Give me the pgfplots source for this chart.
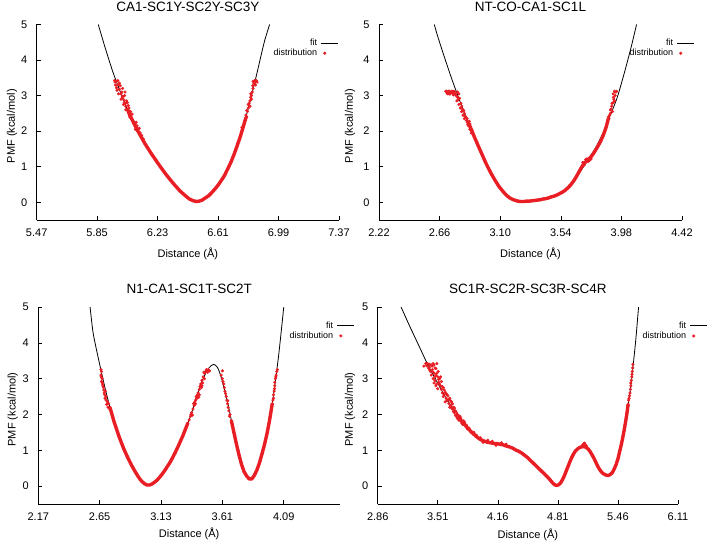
\documentclass[border=0pt]{standalone}
\usepackage{pgfplots}
\usepackage{pgfplotstable}
\pgfplotsset{compat=1.18}
\usepackage{fontspec}
\setmainfont{Liberation Sans}
\definecolor{distred}{RGB}{232,30,36}

% ---------- Panel A: CA1-SC1Y-SC2Y-SC3Y ----------
\pgfplotstableread[row sep=\\]{x y\\
5.857 5.0\\ 5.90 4.35\\ 5.95 3.65\\ 6.00 3.05\\ 6.05 2.50\\ 6.10 2.05\\ 6.15 1.65\\ 6.20 1.30\\ 6.25 0.98\\ 6.30 0.68\\ 6.35 0.42\\ 6.40 0.20\\ 6.45 0.05\\ 6.47 0.02\\ 6.50 0.04\\ 6.55 0.18\\ 6.60 0.42\\ 6.65 0.75\\ 6.70 1.22\\ 6.75 1.85\\ 6.80 2.65\\ 6.85 3.55\\ 6.90 4.50\\ 6.934 5.0\\
}\fitA
\pgfplotstableread[row sep=\\]{x y\\
6.04 2.62\\ 6.055 2.45\\ 6.07 2.32\\ 6.09 2.14\\ 6.11 1.97\\ 6.13 1.81\\ 6.15 1.65\\ 6.17 1.51\\ 6.19 1.37\\ 6.21 1.24\\ 6.23 1.11\\ 6.25 0.98\\ 6.27 0.86\\ 6.29 0.74\\ 6.31 0.63\\ 6.33 0.52\\ 6.35 0.42\\ 6.37 0.32\\ 6.39 0.24\\ 6.41 0.16\\ 6.43 0.09\\ 6.45 0.05\\ 6.47 0.02\\ 6.49 0.03\\ 6.51 0.06\\ 6.53 0.12\\ 6.55 0.18\\ 6.57 0.27\\ 6.59 0.37\\ 6.61 0.48\\ 6.63 0.61\\ 6.65 0.75\\ 6.67 0.93\\ 6.69 1.12\\ 6.71 1.34\\ 6.73 1.59\\ 6.75 1.85\\ 6.77 2.15\\ 6.785 2.38\\
}\coreA
\pgfplotstableread[row sep=\\]{x y\\
5.96 3.42\\ 5.97 3.40\\ 5.98 3.30\\ 5.975 3.15\\ 5.99 3.35\\ 6.00 3.05\\ 6.00 2.90\\ 6.01 3.20\\ 6.01 2.95\\ 6.02 2.80\\ 6.025 3.10\\ 6.03 2.70\\ 6.035 2.85\\ 6.04 2.60\\ 6.045 2.72\\ 6.05 2.50\\ 6.055 2.40\\ 6.06 2.55\\ 5.985 3.05\\ 5.965 3.30\\ 6.015 2.75\\ 6.03 2.60\\ 6.065 2.35\\ 6.08 2.25\\ 6.09 2.05\\ 6.10 2.15\\ 6.12 1.95\\
5.962 3.38\\ 5.972 3.22\\ 5.98 3.42\\ 5.99 3.18\\ 5.995 3.28\\ 6.005 3.10\\ 6.008 2.98\\ 6.018 2.88\\ 6.022 3.00\\ 6.028 2.78\\ 6.04 2.80\\ 6.05 2.65\\ 6.06 2.42\\ 6.07 2.48\\ 6.075 2.28\\ 6.085 2.18\\ 6.095 2.25\\ 6.105 2.00\\ 6.115 2.08\\ 6.13 1.88\\ 6.14 1.78\\
6.78 2.30\\ 6.785 2.45\\ 6.79 2.40\\ 6.795 2.55\\ 6.80 2.65\\ 6.80 2.75\\ 6.81 2.85\\ 6.81 2.70\\ 6.82 3.00\\ 6.82 2.90\\ 6.825 3.10\\ 6.83 3.20\\ 6.835 3.35\\ 6.84 3.42\\ 6.85 3.42\\ 6.845 3.30\\ 6.83 3.40\\ 6.815 3.05\\ 6.855 3.38\\
6.775 2.22\\ 6.79 2.58\\ 6.805 2.78\\ 6.815 2.95\\ 6.828 3.28\\ 6.84 3.36\\ 6.848 3.42\\ 6.76 2.10\\
}\scatA

% ---------- Panel B: NT-CO-CA1-SC1L ----------
\pgfplotstableread[row sep=\\]{x y\\
2.621 5.0\\ 2.65 4.62\\ 2.70 4.02\\ 2.75 3.45\\ 2.80 2.92\\ 2.85 2.42\\ 2.90 1.95\\ 2.95 1.50\\ 3.00 1.07\\ 3.05 0.70\\ 3.10 0.40\\ 3.15 0.18\\ 3.20 0.06\\ 3.25 0.02\\ 3.30 0.03\\ 3.35 0.05\\ 3.40 0.08\\ 3.45 0.12\\ 3.50 0.19\\ 3.55 0.29\\ 3.60 0.45\\ 3.65 0.68\\ 3.70 0.97\\ 3.75 1.27\\ 3.80 1.58\\ 3.85 1.98\\ 3.90 2.45\\ 3.95 2.95\\ 4.00 3.62\\ 4.05 4.35\\ 4.09 5.0\\
}\fitB
\pgfplotstableread[row sep=\\]{x y\\
2.87 2.22\\ 2.89 2.05\\ 2.91 1.86\\ 2.93 1.68\\ 2.95 1.50\\ 2.97 1.33\\ 2.99 1.15\\ 3.01 0.99\\ 3.03 0.84\\ 3.05 0.70\\ 3.07 0.57\\ 3.09 0.45\\ 3.11 0.35\\ 3.13 0.26\\ 3.15 0.18\\ 3.17 0.12\\ 3.19 0.08\\ 3.21 0.05\\ 3.23 0.03\\ 3.25 0.02\\ 3.27 0.02\\ 3.29 0.03\\ 3.31 0.03\\ 3.33 0.04\\ 3.35 0.05\\ 3.37 0.06\\ 3.39 0.07\\ 3.41 0.09\\ 3.43 0.10\\ 3.45 0.12\\ 3.47 0.15\\ 3.49 0.17\\ 3.51 0.20\\ 3.53 0.24\\ 3.55 0.28\\ 3.57 0.33\\ 3.59 0.40\\ 3.61 0.48\\ 3.63 0.58\\ 3.65 0.70\\ 3.67 0.84\\ 3.69 0.98\\ 3.71 1.10\\ 3.73 1.16\\ 3.75 1.24\\ 3.77 1.33\\ 3.79 1.45\\ 3.81 1.58\\ 3.83 1.72\\ 3.85 1.90\\ 3.87 2.12\\ 3.885 2.35\\
}\coreB
\pgfplotstableread[row sep=\\]{x y\\
2.71 3.12\\ 2.72 3.10\\ 2.73 3.12\\ 2.74 3.08\\ 2.75 3.12\\ 2.76 3.02\\ 2.77 3.10\\ 2.78 3.00\\ 2.79 2.95\\ 2.80 3.05\\ 2.785 2.85\\ 2.80 2.75\\ 2.81 2.65\\ 2.82 2.70\\ 2.82 2.55\\ 2.83 2.45\\ 2.84 2.50\\ 2.84 2.35\\ 2.85 2.40\\ 2.86 2.25\\ 2.86 2.35\\ 2.87 2.15\\ 2.88 2.20\\ 2.88 2.05\\ 2.89 1.95\\ 2.72 3.05\\ 2.76 3.12\\
2.705 3.12\\ 2.715 3.06\\ 2.725 3.12\\ 2.735 3.04\\ 2.745 3.12\\ 2.755 3.06\\ 2.765 3.12\\ 2.775 3.04\\ 2.79 3.10\\ 2.795 2.88\\ 2.805 2.92\\ 2.815 2.78\\ 2.825 2.62\\ 2.835 2.58\\ 2.845 2.42\\ 2.855 2.30\\ 2.865 2.18\\ 2.875 2.28\\ 2.885 2.12\\ 2.895 2.02\\
3.70 1.12\\ 3.72 1.20\\ 3.74 1.15\\ 3.71 1.05\\ 3.76 1.22\\ 3.73 1.22\\ 3.75 1.18\\
3.88 2.25\\ 3.885 2.40\\ 3.89 2.35\\ 3.90 2.50\\ 3.90 2.60\\ 3.91 2.70\\ 3.915 2.55\\ 3.92 2.80\\ 3.925 2.90\\ 3.93 2.85\\ 3.935 3.00\\ 3.94 3.10\\ 3.945 3.12\\ 3.93 3.12\\ 3.92 3.05\\ 3.895 2.45\\ 3.905 2.62\\ 3.912 2.78\\ 3.922 2.95\\
}\scatB

% ---------- Panel C: N1-CA1-SC1T-SC2T ----------
\pgfplotstableread[row sep=\\]{x y\\
2.575 5.0\\ 2.60 4.25\\ 2.65 3.40\\ 2.70 2.62\\ 2.75 1.95\\ 2.80 1.40\\ 2.85 0.95\\ 2.90 0.58\\ 2.95 0.28\\ 3.00 0.07\\ 3.02 0.03\\ 3.05 0.04\\ 3.10 0.17\\ 3.15 0.38\\ 3.20 0.66\\ 3.25 1.00\\ 3.30 1.40\\ 3.35 1.85\\ 3.40 2.38\\ 3.45 2.92\\ 3.50 3.28\\ 3.54 3.40\\ 3.57 3.32\\ 3.60 3.05\\ 3.65 2.35\\ 3.70 1.50\\ 3.75 0.72\\ 3.80 0.28\\ 3.83 0.19\\ 3.86 0.30\\ 3.90 0.65\\ 3.95 1.30\\ 4.00 2.30\\ 4.05 3.65\\ 4.09 5.0\\
}\fitC
\pgfplotstableread[row sep=\\]{x y\\
2.73 2.20\\ 2.74 2.08\\ 2.76 1.83\\ 2.78 1.61\\ 2.80 1.40\\ 2.82 1.21\\ 2.84 1.03\\ 2.86 0.87\\ 2.88 0.72\\ 2.90 0.58\\ 2.92 0.45\\ 2.94 0.33\\ 2.96 0.22\\ 2.98 0.13\\ 3.00 0.07\\ 3.02 0.03\\ 3.04 0.03\\ 3.06 0.06\\ 3.08 0.11\\ 3.10 0.17\\ 3.12 0.25\\ 3.14 0.34\\ 3.16 0.44\\ 3.18 0.55\\ 3.20 0.66\\ 3.22 0.79\\ 3.24 0.93\\ 3.26 1.08\\ 3.28 1.24\\ 3.30 1.40\\ 3.32 1.58\\ 3.34 1.76\\
}\coreCa
\pgfplotstableread[row sep=\\]{x y\\
3.68 1.83\\ 3.70 1.50\\ 3.72 1.17\\ 3.74 0.87\\ 3.76 0.60\\ 3.78 0.40\\ 3.80 0.28\\ 3.82 0.20\\ 3.84 0.20\\ 3.86 0.30\\ 3.88 0.45\\ 3.90 0.65\\ 3.92 0.90\\ 3.94 1.17\\ 3.96 1.48\\ 3.98 1.86\\ 4.00 2.30\\
}\coreCb
\pgfplotstableread[row sep=\\]{x y\\
2.66 3.25\\ 2.665 3.20\\ 2.66 3.10\\ 2.67 3.00\\ 2.665 2.92\\ 2.67 2.90\\ 2.675 2.80\\ 2.68 2.75\\ 2.685 2.60\\ 2.69 2.55\\ 2.695 2.65\\ 2.70 2.50\\ 2.70 2.40\\ 2.71 2.35\\ 2.715 2.20\\ 2.72 2.30\\ 2.73 2.15\\ 2.662 3.05\\ 2.672 2.85\\ 2.682 2.68\\ 2.692 2.45\\ 2.705 2.28\\
3.35 1.85\\ 3.36 1.95\\ 3.37 2.05\\ 3.38 2.15\\ 3.385 2.30\\ 3.39 2.25\\ 3.40 2.40\\ 3.405 2.50\\ 3.41 2.45\\ 3.42 2.60\\ 3.43 2.70\\ 3.44 2.85\\ 3.445 2.75\\ 3.45 2.95\\ 3.46 3.05\\ 3.47 3.15\\ 3.48 3.20\\ 3.49 3.22\\ 3.50 3.25\\ 3.51 3.22\\ 3.40 2.30\\ 3.43 2.55\\ 3.45 2.80\\ 3.47 3.00\\ 3.365 2.00\\ 3.375 1.98\\ 3.395 2.35\\ 3.415 2.55\\ 3.425 2.48\\ 3.435 2.78\\ 3.455 2.88\\ 3.465 3.18\\ 3.485 3.25\\ 3.495 3.18\\
3.61 3.22\\ 3.60 3.10\\ 3.61 3.00\\ 3.62 2.85\\ 3.625 2.75\\ 3.63 2.65\\ 3.64 2.50\\ 3.645 2.40\\ 3.65 2.30\\ 3.655 2.20\\ 3.66 2.10\\ 3.67 2.00\\ 3.615 2.92\\ 3.635 2.58\\ 3.652 2.38\\ 3.665 1.95\\
4.005 2.40\\ 4.01 2.55\\ 4.015 2.65\\ 4.02 2.80\\ 4.02 2.90\\ 4.025 3.00\\ 4.03 3.10\\ 4.035 3.20\\ 4.04 3.25\\ 4.01 2.45\\ 4.018 2.72\\ 4.028 3.05\\
}\scatC

% ---------- Panel D: SC1R-SC2R-SC3R-SC4R ----------
\pgfplotstableread[row sep=\\]{x y\\
3.113 5.0\\ 3.20 4.50\\ 3.30 3.95\\ 3.40 3.40\\ 3.50 2.92\\ 3.60 2.45\\ 3.70 2.08\\ 3.80 1.74\\ 3.90 1.45\\ 4.00 1.28\\ 4.10 1.20\\ 4.20 1.16\\ 4.30 1.08\\ 4.40 0.95\\ 4.50 0.75\\ 4.60 0.50\\ 4.70 0.25\\ 4.75 0.10\\ 4.80 0.02\\ 4.85 0.12\\ 4.90 0.42\\ 4.95 0.74\\ 5.00 0.98\\ 5.05 1.08\\ 5.10 1.10\\ 5.15 1.00\\ 5.20 0.78\\ 5.25 0.52\\ 5.30 0.35\\ 5.35 0.30\\ 5.40 0.38\\ 5.45 0.65\\ 5.50 1.20\\ 5.55 1.90\\ 5.60 2.80\\ 5.65 4.00\\ 5.683 5.0\\
}\fitD
\pgfplotstableread[row sep=\\]{x y\\
3.74 1.90\\ 3.76 1.84\\ 3.78 1.78\\ 3.80 1.72\\ 3.82 1.66\\ 3.84 1.60\\ 3.86 1.55\\ 3.88 1.50\\ 3.90 1.45\\ 3.92 1.40\\ 3.94 1.36\\ 3.96 1.32\\ 3.98 1.29\\ 4.00 1.27\\ 4.02 1.25\\ 4.04 1.23\\ 4.06 1.22\\ 4.08 1.21\\ 4.10 1.20\\ 4.12 1.19\\ 4.14 1.19\\ 4.16 1.18\\ 4.18 1.17\\ 4.20 1.16\\ 4.22 1.15\\ 4.24 1.13\\ 4.26 1.11\\ 4.28 1.10\\ 4.30 1.08\\ 4.32 1.06\\ 4.34 1.03\\ 4.36 1.00\\ 4.38 0.98\\ 4.40 0.95\\ 4.42 0.92\\ 4.44 0.88\\ 4.46 0.84\\ 4.48 0.80\\ 4.50 0.75\\ 4.52 0.70\\ 4.54 0.65\\ 4.56 0.60\\ 4.58 0.55\\ 4.60 0.50\\ 4.62 0.45\\ 4.64 0.40\\ 4.66 0.35\\ 4.68 0.30\\ 4.70 0.25\\ 4.72 0.19\\ 4.74 0.13\\ 4.76 0.07\\ 4.78 0.03\\ 4.80 0.02\\ 4.82 0.04\\ 4.84 0.09\\ 4.86 0.18\\ 4.88 0.29\\ 4.90 0.42\\ 4.92 0.55\\ 4.94 0.68\\ 4.96 0.80\\ 4.98 0.90\\ 5.00 0.98\\ 5.02 1.03\\ 5.04 1.07\\ 5.06 1.09\\ 5.08 1.10\\ 5.10 1.10\\ 5.12 1.07\\ 5.14 1.03\\ 5.16 0.96\\ 5.18 0.87\\ 5.20 0.78\\ 5.22 0.67\\ 5.24 0.56\\ 5.26 0.47\\ 5.28 0.40\\ 5.30 0.35\\ 5.32 0.32\\ 5.34 0.30\\ 5.36 0.30\\ 5.38 0.33\\ 5.40 0.38\\ 5.42 0.48\\ 5.44 0.60\\ 5.46 0.76\\ 5.48 0.98\\ 5.50 1.20\\ 5.52 1.46\\ 5.54 1.75\\ 5.56 2.08\\ 5.57 2.28\\
}\coreD
\pgfplotstableread[row sep=\\]{x y\\
3.36 3.35\\ 3.38 3.42\\ 3.40 3.42\\ 3.42 3.40\\ 3.44 3.38\\ 3.46 3.42\\ 3.48 3.30\\ 3.50 3.42\\ 3.41 3.30\\ 3.43 3.20\\ 3.45 3.25\\ 3.47 3.15\\ 3.49 3.10\\ 3.51 3.05\\ 3.44 3.10\\ 3.46 3.00\\ 3.48 2.95\\ 3.50 2.85\\ 3.52 2.90\\ 3.54 2.80\\ 3.53 3.00\\ 3.55 2.70\\ 3.56 2.60\\ 3.57 2.75\\ 3.58 2.55\\ 3.60 2.45\\ 3.59 2.35\\ 3.61 2.55\\ 3.62 2.40\\ 3.63 2.30\\ 3.64 2.45\\ 3.65 2.25\\ 3.66 2.35\\ 3.67 2.15\\ 3.68 2.20\\ 3.69 2.05\\ 3.70 2.10\\ 3.71 1.95\\ 3.72 2.00\\ 3.73 1.88\\ 3.75 1.95\\ 3.77 1.76\\ 3.80 1.78\\ 3.83 1.60\\
3.39 3.36\\ 3.42 3.32\\ 3.45 3.35\\ 3.47 3.38\\ 3.49 3.28\\ 3.515 3.20\\ 3.42 3.25\\ 3.46 3.18\\ 3.48 3.05\\ 3.50 3.15\\ 3.52 2.98\\ 3.54 3.05\\ 3.47 2.88\\ 3.49 2.80\\ 3.51 2.72\\ 3.53 2.85\\ 3.55 2.92\\ 3.56 2.78\\ 3.57 2.50\\ 3.58 2.68\\ 3.59 2.62\\ 3.60 2.58\\ 3.61 2.38\\ 3.62 2.52\\ 3.63 2.42\\ 3.64 2.20\\ 3.65 2.38\\ 3.66 2.18\\ 3.67 2.30\\ 3.68 2.08\\ 3.69 2.18\\ 3.70 1.98\\ 3.71 2.06\\ 3.72 1.90\\ 3.73 1.98\\ 3.74 1.84\\ 3.76 1.90\\ 3.78 1.72\\ 3.79 1.82\\ 3.82 1.70\\ 3.85 1.62\\ 3.87 1.50\\ 3.90 1.50\\ 3.93 1.42\\ 3.97 1.35\\ 4.00 1.22\\ 4.05 1.28\\ 4.10 1.25\\ 4.14 1.14\\ 4.20 1.21\\ 4.25 1.17\\
5.08 1.15\\ 5.09 1.18\\ 5.10 1.20\\ 5.11 1.15\\ 5.07 1.12\\ 5.12 1.12\\
5.57 2.25\\ 5.575 2.40\\ 5.58 2.45\\ 5.59 2.60\\ 5.595 2.70\\ 5.60 2.80\\ 5.605 2.95\\ 5.61 3.05\\ 5.615 3.20\\ 5.62 3.30\\ 5.622 3.40\\ 5.585 2.52\\ 5.598 2.88\\ 5.612 3.12\\
}\scatD

\pgfplotsset{
  pmf/.style={
    scale only axis,
    axis lines=left,
    axis line style={-, line width=0.8pt, black},
    ymin=-0.5, ymax=5, ytick={0,1,2,3,4,5},
    tick align=inside, major tick length=4pt,
    tick style={black, line width=0.6pt},
    /pgf/number format/assume math mode=true,
    ticklabel style={font=\fontsize{11}{13}\selectfont},
    yticklabel style={xshift=-6pt},
    xticklabel style={yshift=-5pt},
    xlabel={Distance (Å)},
    ylabel={PMF (kcal/mol)},
    label style={font=\fontsize{11}{13}\selectfont},
    title style={font=\fontsize{13.5}{16}\selectfont, at={(axis description cs:0.5,1)}, anchor=center, yshift=12pt},
    legend plot pos=right,
    legend cell align=right,
    legend style={draw=none, fill=none, font=\fontsize{9}{10}\selectfont,
      anchor=north east, inner sep=0pt, row sep=0.5pt, column sep=3pt,
      nodes={inner sep=0.8pt}},
  },
  fitline/.style={black, line width=0.8pt, smooth, tension=0.4, no markers},
  distmark/.style={distred, only marks, mark=*, mark size=1.35pt,
    legend image code/.code={\draw[##1] plot coordinates {(0.12cm,0cm)};}},
  coremark/.style={distred, only marks, mark=*, mark size=1.1pt},
  distline/.style={distred, line width=3.4pt, line join=round, line cap=round, no markers},
}

\begin{document}
\begin{tikzpicture}
\path[use as bounding box] (0pt,0pt) rectangle (714pt,547pt);

% Panel A
\begin{axis}[pmf, at={(36.7pt,327pt)}, anchor=south west, width=302.3pt, height=195.5pt,
  xmin=5.47, xmax=7.37, xtick={5.47,5.85,6.23,6.61,6.99,7.37},
  xticklabels={5.47,5.85,6.23,6.61,6.99,7.37},
  title={CA1-SC1Y-SC2Y-SC3Y},
  xlabel style={at={(axis description cs:0.5,-0.174)}, anchor=center},
  ylabel style={at={(axis description cs:-0.082,0.48)}, anchor=center},
  legend style={at={(axis description cs:1.0,0.93)}}]
\addplot[fitline] table {\fitA};
\addlegendentry{fit}
\addplot[distmark] table {\scatA};
\addlegendentry{distribution}
\addplot[coremark, forget plot] table {\coreA};
\addplot[distline, forget plot] table {\coreA};
\end{axis}

% Panel B
\begin{axis}[pmf, at={(379pt,327pt)}, anchor=south west, width=303pt, height=195.5pt,
  xmin=2.22, xmax=4.42, xtick={2.22,2.66,3.10,3.54,3.98,4.42},
  xticklabels={2.22,2.66,3.10,3.54,3.98,4.42},
  title={NT-CO-CA1-SC1L},
  xlabel style={at={(axis description cs:0.5,-0.174)}, anchor=center},
  ylabel style={at={(axis description cs:-0.096,0.48)}, anchor=center},
  legend style={at={(axis description cs:1.043,0.93)}}]
\addplot[fitline] table {\fitB};
\addlegendentry{fit}
\addplot[distmark] table {\scatB};
\addlegendentry{distribution}
\addplot[coremark, forget plot] table {\coreB};
\addplot[distline, forget plot] table {\coreB};
\end{axis}

% Panel C
\begin{axis}[pmf, at={(38.3pt,43pt)}, anchor=south west, width=301.7pt, height=197pt,
  xmin=2.17, xmax=4.53, xtick={2.17,2.65,3.13,3.61,4.09},
  xticklabels={2.17,2.65,3.13,3.61,4.09},
  title={N1-CA1-SC1T-SC2T},
  xlabel style={at={(axis description cs:0.5,-0.152)}, anchor=center},
  ylabel style={at={(axis description cs:-0.085,0.48)}, anchor=center},
  legend style={at={(axis description cs:1.05,0.93)}}]
\addplot[fitline] table {\fitC};
\addlegendentry{fit}
\addplot[distmark] table {\scatC};
\addlegendentry{distribution}
\addplot[coremark, forget plot] table {\coreCa};
\addplot[coremark, forget plot] table {\coreCb};
\addplot[distline, forget plot] table {\coreCa};
\addplot[distline, forget plot] table {\coreCb};
\end{axis}

% Panel D
\begin{axis}[pmf, at={(377.7pt,43pt)}, anchor=south west, width=300.3pt, height=197pt,
  xmin=2.86, xmax=6.11, xtick={2.86,3.51,4.16,4.81,5.46,6.11},
  xticklabels={2.86,3.51,4.16,4.81,5.46,6.11},
  title={SC1R-SC2R-SC3R-SC4R},
  xlabel style={at={(axis description cs:0.5,-0.154)}, anchor=center},
  ylabel style={at={(axis description cs:-0.092,0.48)}, anchor=center},
  legend style={at={(axis description cs:1.10,0.93)}}]
\addplot[fitline] table {\fitD};
\addlegendentry{fit}
\addplot[distmark] table {\scatD};
\addlegendentry{distribution}
\addplot[coremark, forget plot] table {\coreD};
\addplot[distline, forget plot] table {\coreD};
\end{axis}
\end{tikzpicture}
\end{document}
